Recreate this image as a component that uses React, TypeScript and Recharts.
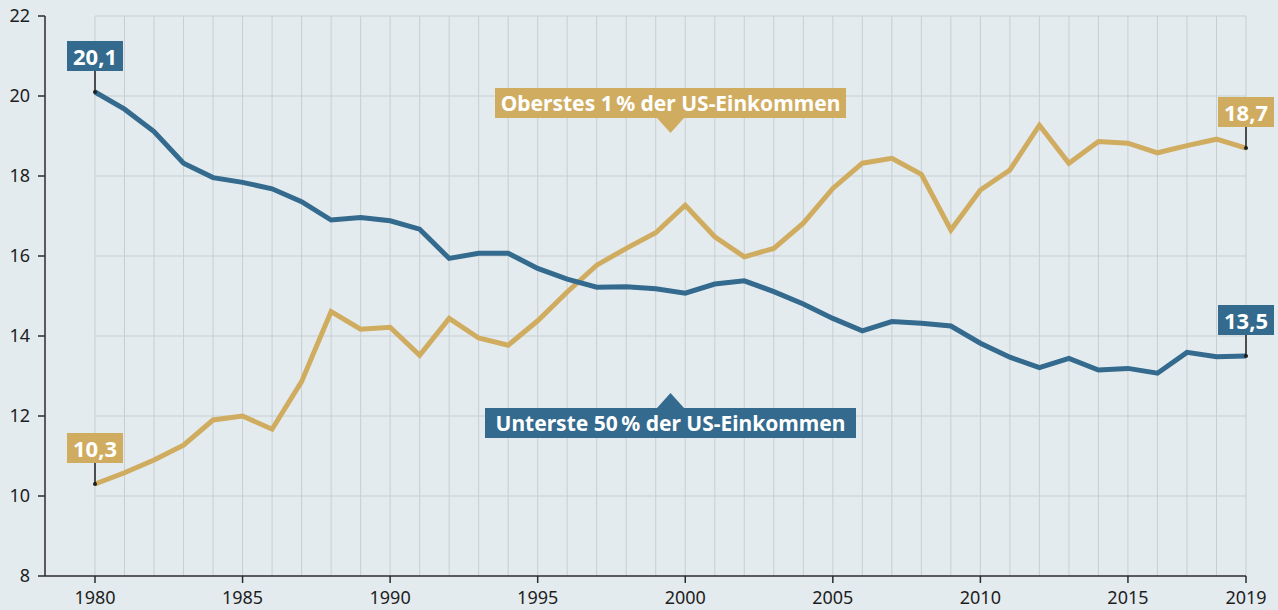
import React from 'react';
import { LineChart, Line, XAxis, YAxis, ReferenceLine, ReferenceDot } from 'recharts';

const years = [1980, 1981, 1982, 1983, 1984, 1985, 1986, 1987, 1988, 1989, 1990, 1991, 1992, 1993, 1994, 1995, 1996, 1997, 1998, 1999, 2000, 2001, 2002, 2003, 2004, 2005, 2006, 2007, 2008, 2009, 2010, 2011, 2012, 2013, 2014, 2015, 2016, 2017, 2018, 2019];

const bottom50 = [20.1, 19.67, 19.11, 18.32, 17.96, 17.84, 17.68, 17.36, 16.9, 16.96, 16.88, 16.67, 15.94, 16.07, 16.07, 15.69, 15.42, 15.22, 15.23, 15.18, 15.07, 15.3, 15.38, 15.11, 14.8, 14.44, 14.13, 14.36, 14.32, 14.25, 13.82, 13.47, 13.21, 13.44, 13.15, 13.19, 13.07, 13.59, 13.48, 13.5];

const top1 = [10.3, 10.58, 10.9, 11.27, 11.9, 12.0, 11.67, 12.86, 14.61, 14.17, 14.22, 13.52, 14.44, 13.95, 13.77, 14.38, 15.1, 15.77, 16.19, 16.58, 17.27, 16.48, 15.98, 16.19, 16.82, 17.69, 18.32, 18.44, 18.04, 16.65, 17.65, 18.15, 19.27, 18.32, 18.86, 18.82, 18.58, 18.76, 18.92, 18.7];

const xTicks = [1980, 1985, 1990, 1995, 2000, 2005, 2010, 2015, 2019];
const yTicks = [8, 10, 12, 14, 16, 18, 20, 22];
const gridY = [10, 12, 14, 16, 18, 20, 22];

const seriesLabelTop = 'Oberstes 1\u2009% der US-Einkommen';
const seriesLabelBottom = 'Unterste 50\u2009% der US-Einkommen';
const seriesLabelYear = 1999.5;
const topLabelAnchor = 19.075;
const bottomLabelAnchor = 12.575;

const BLUE = '#336a8e';
const GOLD = '#d0ac60';
const BG = '#e3ebee';
const GRID = '#c7cfd2';
const AXIS = '#2b2b2b';
const FONT = '"Noto Sans", sans-serif';

const data = years.map((y, i) => ({ year: y, bottom: bottom50[i], top: top1[i] }));

const fmt = (v: number) => v.toFixed(1).replace('.', ',');

const makeCallout = (color: string, text: string) => (props: any) => {
  const { cx, cy } = props;
  const gap = 21;
  const h = 30;
  const w = 56;
  return (
    <g>
      <line x1={cx} y1={cy - gap} x2={cx} y2={cy} stroke="#1e1e1e" strokeWidth={1.5} />
      <circle cx={cx} cy={cy} r={2} fill="#1e1e1e" />
      <rect x={cx - w / 2} y={cy - gap - h} width={w} height={h} fill={color} />
      <text x={cx} y={cy - gap - h / 2} textAnchor="middle" dominantBaseline="central" fill="#fff" fontWeight={700} fontSize={22} fontFamily={FONT}>
        {text}
      </text>
    </g>
  );
};

const makeSeriesLabel = (color: string, text: string, w: number, pointDown: boolean) => (props: any) => {
  const { cx, cy } = props;
  const h = 30;
  const tri = 15;
  const half = 13.5;
  let boxY: number;
  let triPath: string;
  if (pointDown) {
    boxY = cy - tri - h;
    triPath = `M${cx - half},${cy - tri} L${cx + half},${cy - tri} L${cx},${cy} Z`;
  } else {
    boxY = cy + tri;
    triPath = `M${cx - half},${cy + tri} L${cx + half},${cy + tri} L${cx},${cy} Z`;
  }
  return (
    <g>
      <rect x={cx - w / 2} y={boxY} width={w} height={h} fill={color} />
      <path d={triPath} fill={color} />
      <text x={cx} y={boxY + h / 2} textAnchor="middle" dominantBaseline="central" fill="#fff" fontWeight={700} fontSize={21} fontFamily={FONT}>
        {text}
      </text>
    </g>
  );
};

export default function App() {
  const last = years.length - 1;
  return (
    <div style={{ position: 'absolute', left: 0, top: 0, width: 1278, height: 610, background: BG, overflow: 'hidden' }}>
      <LineChart width={1278} height={610} data={data} margin={{ top: 16, right: 32, left: 0, bottom: 0 }}>
        <XAxis
          dataKey="year"
          type="number"
          domain={[1978.306, 2019]}
          ticks={xTicks}
          allowDataOverflow
          height={34}
          tickSize={7}
          tickMargin={8}
          stroke={AXIS}
          strokeWidth={1.5}
          tick={{ fill: '#1e1e1e', fontSize: 18, fontFamily: FONT }}
          tickLine={{ stroke: AXIS, strokeWidth: 1.5 }}
        />
        <YAxis
          type="number"
          domain={[8, 22]}
          ticks={yTicks}
          width={45}
          tickSize={7}
          tickMargin={8}
          stroke={AXIS}
          strokeWidth={1.5}
          tick={{ fill: '#1e1e1e', fontSize: 18, fontFamily: FONT }}
          tickLine={{ stroke: AXIS, strokeWidth: 1.5 }}
        />
        {years.map((yr) => (
          <ReferenceLine key={'v' + yr} x={yr} stroke={GRID} strokeWidth={1} />
        ))}
        {gridY.map((v) => (
          <ReferenceLine key={'h' + v} segment={[{ x: 1980, y: v }, { x: 2019, y: v }]} stroke={GRID} strokeWidth={1} />
        ))}
        <Line dataKey="top" stroke={GOLD} strokeWidth={5} dot={false} isAnimationActive={false} type="linear" />
        <Line dataKey="bottom" stroke={BLUE} strokeWidth={5} dot={false} isAnimationActive={false} type="linear" />
        <ReferenceDot x={years[0]} y={bottom50[0]} r={0} shape={makeCallout(BLUE, fmt(bottom50[0]))} />
        <ReferenceDot x={years[0]} y={top1[0]} r={0} shape={makeCallout(GOLD, fmt(top1[0]))} />
        <ReferenceDot x={years[last]} y={top1[last]} r={0} shape={makeCallout(GOLD, fmt(top1[last]))} />
        <ReferenceDot x={years[last]} y={bottom50[last]} r={0} shape={makeCallout(BLUE, fmt(bottom50[last]))} />
        <ReferenceDot x={seriesLabelYear} y={topLabelAnchor} r={0} shape={makeSeriesLabel(GOLD, seriesLabelTop, 351, true)} />
        <ReferenceDot x={seriesLabelYear} y={bottomLabelAnchor} r={0} shape={makeSeriesLabel(BLUE, seriesLabelBottom, 371, false)} />
      </LineChart>
    </div>
  );
}
